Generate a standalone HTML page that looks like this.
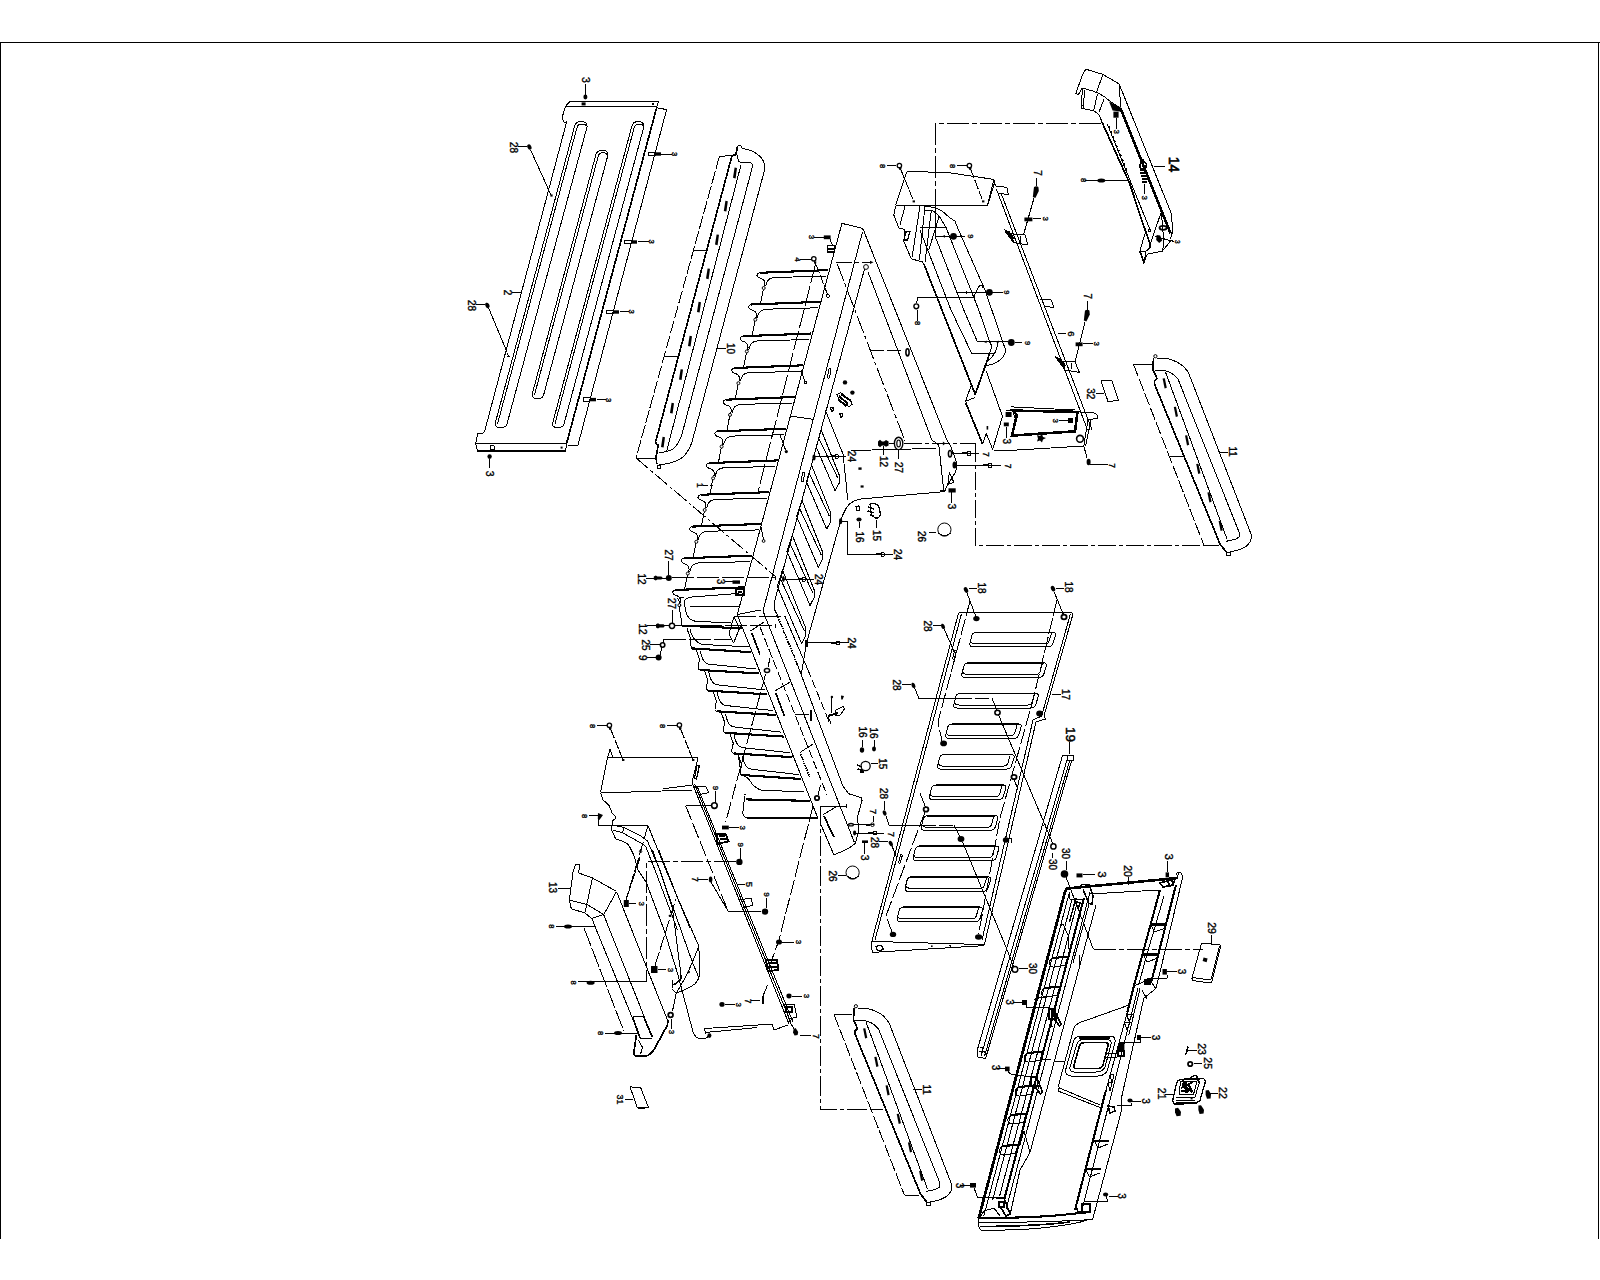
<!DOCTYPE html>
<html><head><meta charset="utf-8"><title>Exploded parts diagram</title>
<style>
html,body{margin:0;padding:0;background:#fff;}
body{width:1600px;height:1280px;overflow:hidden;font-family:"Liberation Sans",sans-serif;}
svg{display:block;position:absolute;left:0;top:0;}
.l{fill:none;stroke:#000;stroke-width:1;stroke-linecap:butt;stroke-linejoin:round;}
.t{fill:none;stroke:#000;stroke-width:0.8;}
.k{fill:none;stroke:#000;stroke-width:1.7;}
.k2{fill:none;stroke:#000;stroke-width:2.1;}
.d{fill:none;stroke:#000;stroke-width:1;stroke-dasharray:14 3 3 3;}
.f{fill:#000;stroke:none;shape-rendering:geometricPrecision;}
circle,ellipse{shape-rendering:geometricPrecision;}
text{font-family:"Liberation Sans",sans-serif;fill:#000;stroke:#000;stroke-width:.35;}
</style></head><body>
<svg width="1600" height="1280" viewBox="0 0 1600 1280" shape-rendering="crispEdges">
<rect x="0" y="0" width="1600" height="1280" fill="#fff"/>
<!-- 00_frame.svg -->
<g id="frame">
<path class="l" d="M0 42.5H1600"/>
<path class="l" style="stroke-width:1.2" d="M0.5 42.5V1239"/>
<path class="l" d="M1598.5 42.5V1239"/>
</g>

<!-- 02_panel2.svg -->
<g id="part2">
<!-- top flange -->
<path class="l" d="M570 101.4H658.6L657 106.4H565.4Z"/>
<path class="l" d="M565.4 106.4L562.4 116.5L563.4 121.5Q564 122.6 566.6 122L485 430L483.6 433L477.8 433.6L475.6 443.6"/>
<!-- right edge (thick) + outer side flange -->
<path class="k" d="M657 106.4L566.6 443.4"/>
<path class="l" d="M657 107.8L666.6 109.6L578 445H568"/>
<!-- bottom flange -->
<path class="l" d="M475.6 443.6H566.6"/>
<path class="l" d="M475.6 443.6L477.4 451"/>
<path class="k2" d="M477.2 451H565.8"/>
<path class="l" d="M566.6 443.6L565.6 451"/>
<!-- slots -->
<path class="l" d="M574.4 127Q575.4 121.4 581.4 121.6Q587.6 121.8 587 127L507 424Q505.6 428 500.6 427.6Q495 427.6 495 424Z"/>
<path class="l" d="M577 127.6Q578 124 582 124Q585.4 124 586 126"/>
<path class="l" d="M577 127.6L497.6 423.6"/>
<path class="l" d="M595.6 155.6Q596.6 150 602.4 150.2Q608.4 150.4 607.8 155.6L543.6 395Q542.4 398.8 537.8 398.6Q532 398.6 532 395Z"/>
<path class="l" d="M598.2 156.2Q599.2 152.6 603 152.6Q606.4 152.6 607 154.6"/>
<path class="l" d="M598.2 156.2L534.6 394.6"/>
<path class="l" d="M631.6 127Q632.6 121.4 638.4 121.6Q644.4 121.8 643.8 127L564 424Q562.6 428 557.8 427.6Q552.4 427.6 552.4 424Z"/>
<path class="l" d="M634.2 127.6Q635.2 124 639 124Q642.4 124 643 126"/>
<path class="l" d="M634.2 127.6L555 423.6"/>
<!-- flange details -->
<rect class="f" x="581.6" y="102.4" width="4" height="3"/>
<rect class="f" x="652" y="103" width="2" height="2"/>
<path class="l" d="M490 445.6h4v4h-4z"/>
<rect class="f" x="560.6" y="446.6" width="2" height="2"/>
<!-- screws 3 top / bottom -->
<path class="l" d="M585.4 84V95"/>
<ellipse class="f" cx="585.4" cy="97" rx="2" ry="2.4"/>
<text transform="translate(582 80) rotate(90)" text-anchor="middle" font-size="10.5">3</text>
<path class="l" d="M489.6 459V468"/>
<ellipse class="f" cx="489.6" cy="456.6" rx="2.2" ry="2.4"/>
<text transform="translate(485.6 473.6) rotate(90)" text-anchor="middle" font-size="10.5">3</text>
<!-- label 28 upper -->
<text transform="translate(509.6 147.6) rotate(90)" text-anchor="middle" font-size="10">28</text>
<path class="l" d="M518 146.4H527"/>
<ellipse class="f" cx="529.4" cy="147" rx="2" ry="2.8" transform="rotate(-25 529.4 147)"/>
<path class="l" d="M530.6 150L551 195"/>
<rect class="f" x="550.4" y="194.4" width="2.2" height="2.2"/>
<!-- label 2 -->
<text transform="translate(503.6 292.6) rotate(90)" text-anchor="middle" font-size="10">2</text>
<path class="l" d="M512 292.4H521.4"/>
<!-- label 28 lower -->
<text transform="translate(467.6 305.6) rotate(90)" text-anchor="middle" font-size="10">28</text>
<path class="l" d="M476 304.4H485"/>
<ellipse class="f" cx="487.4" cy="305.4" rx="2" ry="2.8" transform="rotate(-25 487.4 305.4)"/>
<path class="l" d="M488.6 308L507 352"/>
<path class="l" d="M506.6 352.6L508.6 356.4M507 356.4H509.6"/>
<!-- side screws 3 -->
<g id="sc3a"><path class="l" d="M648.0 152.3h7v3.400h-7z"/><rect class="f" x="655.0" y="152.3" width="6" height="3.400"/><path class="l" d="M661 154H672"/><text transform="translate(671.6 154) rotate(90)" text-anchor="middle" font-size="7.5">3</text></g>
<g><path class="l" d="M624.0 240.3h7v3.400h-7z"/><rect class="f" x="631.0" y="240.3" width="6" height="3.400"/><path class="l" d="M638 241.8H649"/><text transform="translate(649 241.6) rotate(90)" text-anchor="middle" font-size="7.5">3</text></g>
<g><path class="l" d="M606.0 310.3h7v3.400h-7z"/><rect class="f" x="613.0" y="310.3" width="6" height="3.400"/><path class="l" d="M620 311.8H629"/><text transform="translate(629 311.6) rotate(90)" text-anchor="middle" font-size="7.5">3</text></g>
<g><path class="l" d="M583.0 397.9h7v3.400h-7z"/><rect class="f" x="590.0" y="397.9" width="6" height="3.400"/><path class="l" d="M597 399.6H606"/><text transform="translate(606.4 400) rotate(90)" text-anchor="middle" font-size="7.5">3</text></g>
</g>

<!-- 10_rail10.svg -->
<g id="part10">
<!-- base plate dashed outline -->
<path class="l" style="stroke-dasharray:13 2.5" d="M719.4 156.4L636.1 457.8"/>
<path class="l" d="M719.4 156.4L735.5 155.2"/>
<path class="l" d="M636.1 458.1H655.6"/>
<path class="l" d="M693.4 250.4H706.8M664.2 356H678.4"/>
<!-- second (thick) line with hook -->
<path class="k" d="M737.6 146.4L736 154L731.8 156.4L656 440.5L655.3 442L656.8 444.3L658.3 445L656 457L656.8 464"/>
<path class="l" d="M737.6 146.2Q739 144.4 741 145.8L742.4 148.4"/>
<path class="l" d="M657.5 465.3h3.4v3h-3.4z"/>
<!-- third line -->
<path class="l" d="M741.1 164.5L666.5 451.6"/>
<!-- inner rail -->
<path class="l" d="M737.4 155.5L738.1 160Q738.6 162 740.4 162.2H748.3Q753.4 163 752.4 166.8L682.3 433Q679.4 443 673.8 448.4Q668 452.2 659 452.4"/>
<!-- outer rail -->
<path class="l" d="M742.3 148.4Q748 149.6 752 151Q761.6 155.6 764.2 163Q765.2 167 764.4 170.5L692 442Q688.4 453 681 458.6Q671 464.4 659 464.5"/>
<!-- slot marks -->
<g class="f">
<path d="M734.6 167.6l2.4 .4l-1.4 10.4l-2.6-.6z"/>
<path d="M725.4 200.8l2.4 .4l-1.4 10.4l-2.6-.6z"/>
<path d="M716.6 234.4l2.4 .4l-1.4 10.4l-2.6-.6z"/>
<path d="M707.6 268.4l2.4 .4l-1.4 10.4l-2.6-.6z"/>
<path d="M698.6 301.8l2.4 .4l-1.4 10.4l-2.6-.6z"/>
<path d="M689.6 335.8l2.4 .4l-1.4 10.4l-2.6-.6z"/>
<path d="M680.6 369.2l2.4 .4l-1.4 10.4l-2.6-.6z"/>
<path d="M671.6 402.8l2.4 .4l-1.4 10.4l-2.6-.6z"/>
<path d="M662.6 436.8l2.4 .4l-1.4 10.4l-2.6-.6z"/>
</g>
<!-- label 10 -->
<path class="l" d="M717 348H726"/>
<text transform="translate(726.6 348.6) rotate(90)" text-anchor="middle" font-size="10">10</text>
<!-- dashed diagonal to body -->
<path class="l" style="stroke-dasharray:16 3 3 3" d="M636.1 458.1L776 577"/>
</g>

<!-- 20_body_ribs.svg -->
<g id="ribsU">
<path class="k2"  d="M759.6 272.8L828.3 270.1"/>
<path class="l"  d="M759.6 272.8Q757.1 273.2 756.9 275.2Q757.5 277.6 761.5 278.6Q764.7 279.8 765 283.8L764.3 286.2"/>
<circle class="l" cx="763.7" cy="288" r="1.5"/>
<path class="l"  d="M763.3 289.6L760.5 304"/>
<path class="l"  d="M826.1 276.1L774.1 277.5Q769.1 278.2 767.5 281.2Q766.1 283.8 765.7 286.2"/>
<path class="k2"  d="M751.2 304.5L819.9 301.8"/>
<path class="l"  d="M751.2 304.5Q748.7 304.9 748.5 306.9Q749.1 309.3 753.1 310.3Q756.3 311.5 756.6 315.5L755.9 317.9"/>
<circle class="l" cx="755.3" cy="319.7" r="1.5"/>
<path class="l"  d="M754.9 321.3L752.1 335.7"/>
<path class="l"  d="M817.7 307.8L765.7 309.2Q760.7 309.9 759.1 312.9Q757.7 315.5 757.3 317.9"/>
<path class="k2"  d="M742.7 336.2L811.4 333.5"/>
<path class="l"  d="M742.7 336.2Q740.2 336.6 740 338.6Q740.6 341 744.6 342Q747.8 343.2 748.1 347.2L747.4 349.6"/>
<circle class="l" cx="746.8" cy="351.4" r="1.5"/>
<path class="l"  d="M746.4 353L743.6 367.4"/>
<path class="l"  d="M809.2 339.5L757.2 340.9Q752.2 341.6 750.6 344.6Q749.2 347.2 748.8 349.6"/>
<path class="k2"  d="M734.3 368L803 365.3"/>
<path class="l"  d="M734.3 368Q731.8 368.4 731.6 370.4Q732.2 372.8 736.2 373.8Q739.4 375 739.7 379L739 381.4"/>
<circle class="l" cx="738.4" cy="383.2" r="1.5"/>
<path class="l"  d="M738 384.8L735.2 399.2"/>
<path class="l"  d="M800.8 371.3L748.8 372.7Q743.8 373.4 742.2 376.4Q740.8 379 740.4 381.4"/>
<path class="k2"  d="M725.9 399.7L794.6 397"/>
<path class="l"  d="M725.9 399.7Q723.4 400.1 723.2 402.1Q723.8 404.5 727.8 405.5Q731 406.7 731.3 410.7L730.6 413.1"/>
<circle class="l" cx="730" cy="414.9" r="1.5"/>
<path class="l"  d="M729.6 416.5L726.8 430.9"/>
<path class="l"  d="M792.4 403L740.4 404.4Q735.4 405.1 733.8 408.1Q732.4 410.7 732 413.1"/>
<path class="k2"  d="M717.5 431.4L786.2 428.7"/>
<path class="l"  d="M717.5 431.4Q715 431.8 714.8 433.8Q715.4 436.2 719.4 437.2Q722.6 438.4 722.9 442.4L722.2 444.8"/>
<circle class="l" cx="721.6" cy="446.6" r="1.5"/>
<path class="l"  d="M721.2 448.2L718.4 462.6"/>
<path class="l"  d="M784 434.7L732 436.1Q727 436.8 725.4 439.8Q724 442.4 723.6 444.8"/>
<path class="k2"  d="M709 463.1L777.7 460.4"/>
<path class="l"  d="M709 463.1Q706.5 463.5 706.3 465.5Q706.9 467.9 710.9 468.9Q714.1 470.1 714.4 474.1L713.7 476.5"/>
<circle class="l" cx="713.1" cy="478.3" r="1.5"/>
<path class="l"  d="M712.7 479.9L709.9 494.3"/>
<path class="l"  d="M775.5 466.4L723.5 467.8Q718.5 468.5 716.9 471.5Q715.5 474.1 715.1 476.5"/>
<path class="k2"  d="M700.6 494.8L769.3 492.1"/>
<path class="l"  d="M700.6 494.8Q698.1 495.2 697.9 497.2Q698.5 499.6 702.5 500.6Q705.7 501.8 706 505.8L705.3 508.2"/>
<circle class="l" cx="704.7" cy="510" r="1.5"/>
<path class="l"  d="M704.3 511.6L701.5 526"/>
<path class="l"  d="M767.1 498.1L715.1 499.5Q710.1 500.2 708.5 503.2Q707.1 505.8 706.7 508.2"/>
<path class="k2"  d="M692.2 526.6L760.9 523.9"/>
<path class="l"  d="M692.2 526.6Q689.7 527 689.5 529Q690.1 531.4 694.1 532.4Q697.3 533.6 697.6 537.6L696.9 540"/>
<circle class="l" cx="696.3" cy="541.8" r="1.5"/>
<path class="l"  d="M695.9 543.4L693.1 557.8"/>
<path class="l"  d="M758.7 529.9L706.7 531.3Q701.7 532 700.1 535Q698.7 537.6 698.3 540"/>
<path class="k2"  d="M683.7 558.3L752.4 555.6"/>
<path class="l"  d="M683.7 558.3Q681.2 558.7 681 560.7Q681.6 563.1 685.6 564.1Q688.8 565.3 689.1 569.3L688.4 571.7"/>
<circle class="l" cx="687.8" cy="573.5" r="1.5"/>
<path class="l"  d="M687.4 575.1L684.6 589.5"/>
<path class="l"  d="M750.2 561.6L698.2 563Q693.2 563.7 691.6 566.7Q690.2 569.3 689.8 571.7"/>
<path class="k2"  d="M675.3 590L744 587.3"/>
<path class="l"  d="M675.3 590Q672.8 590.4 672.6 592.4Q673.2 594.8 677.2 595.8Q680.4 597 680.7 601L680 603.4"/>
<circle class="l" cx="679.4" cy="605.2" r="1.5"/>
</g>

<!-- 21_body_main.svg -->
<g id="bodyTop">
<!-- top cap and A-legs -->
<path class="l" d="M841.9 223.4L861.6 228.1Q864 229.6 865.3 234.7L946.9 440"/>
<path class="l" d="M841.9 223.4L738 612"/>
<path class="l" d="M862.5 231.9L763 611"/>
<path class="l" d="M864.4 269.4L774.4 602"/>
<circle class="l" cx="866" cy="267" r="2.4"/>
<path class="l" d="M868.1 272.2L931.9 440"/>
<!-- dash-dot lines -->
<path class="l" style="stroke-dasharray:16 3 4 3" d="M836.3 262.3H872"/>
<path class="f" d="M873.5 262.3l-3.5-1.6v3.2z"/>
<path class="l" style="stroke-dasharray:18 3 4 3" d="M837.2 263.8L905 441"/>
<path class="l" style="stroke-dasharray:14 3" d="M870 350.9H904"/>
<ellipse class="l" cx="907.5" cy="352.3" rx="1.6" ry="3.6" style="stroke-width:1.6"/>
<!-- hidden dashed line in wall -->
<path class="l" style="stroke-dasharray:20 3" d="M815.6 263.8L758 492"/>
</g>

<!-- 22_body_floor.svg -->
<g id="floorU">
<path class="l"  d="M821.3 430.3L839.1 474.8L839.1 483.3L835.1 490.8L816.1 446.8Z"/>
<path class="l"  d="M819.3 439.3L837.9 478.3"/>
<path class="l"  d="M811.6 465.2L830.7 513L830.7 521.5L826.7 529L806.4 481.7Z"/>
<path class="l"  d="M809.6 474.2L829.5 516.5"/>
<path class="l"  d="M801.9 500.1L822.3 551.2L822.3 559.7L818.3 567.2L796.7 516.6Z"/>
<path class="l"  d="M799.9 509.1L821.1 554.7"/>
<path class="l"  d="M792.2 535L814 589.4L814 597.9L810 605.4L787 551.5Z"/>
<path class="l"  d="M790.2 544L812.8 592.9"/>
<path class="l"  d="M782.5 569.9L805.6 627.6L805.6 636.1L801.6 643.6L777.3 586.4Z"/>
<path class="l"  d="M780.5 578.9L804.4 631.1"/>
</g>

<!-- 23_body_right.svg -->
<g id="bodyRight">
<!-- right leg lower end -->
<path class="l" d="M946.9 440L950 444.8Q954.6 456 957 464Q957.4 468 955.3 472.5L946.3 487.5L944.8 491.4"/>
<path class="l" d="M931.9 440L938.8 444.8L943.6 489.8M939.9 490.5H945"/>
<path class="l" d="M949.3 472.5L953.8 482.3L947.8 484.5Z"/>
<!-- lower edge of extension going left + arc + boundary down-left -->
<path class="l" d="M944.8 491.6L862.5 498.8Q853 500 848.6 505Q843.6 511 840.6 521L806.5 643L801.3 674"/>
<!-- upper floor line -->
<path class="l" d="M935.8 448.4L872 450L851 450.6"/>
<!-- inner floor edge -->
<path class="l" d="M825.5 410.5L843 454L846 482L847.6 500"/>
<!-- section line -->
<path class="l" d="M790 416L814 419.5"/>
<!-- washer 27, bolt 12 -->
<ellipse class="l" cx="898.6" cy="443.4" rx="4.2" ry="6.2" style="stroke-width:1.4"/>
<ellipse class="l" cx="898.6" cy="443.4" rx="1.8" ry="3.4" style="stroke-width:1.2"/>
<path class="l" d="M889 443.4H894"/>
<path class="f" d="M878 441.4l2-1.6l2 1.6h2l2-1.4l2.6 1.4v4l-2.6 1.4l-2-1.4h-2l-2 1.8l-2-1.8z"/>
<path class="l" d="M883.6 446V455M898.6 450V459"/>
<text transform="translate(879.6 461.6) rotate(90)" text-anchor="middle" font-size="10">12</text>
<text transform="translate(894.6 467.6) rotate(90)" text-anchor="middle" font-size="10">27</text>
<!-- dash-dot from washer to right, then down, then right -->
<path class="l" style="stroke-dasharray:18 3 4 3" d="M903.5 443.5H975.5"/>
<path class="f" d="M945.5 443.5l-2.6-2v4z"/>
<path class="l" style="stroke-dasharray:18 3 4 3" d="M975.5 443.5V545.5H1219"/>
<!-- screws 7 -->
<ellipse class="l" cx="950" cy="453.8" rx="1.6" ry="3.2" style="stroke-width:1.5"/>
<path class="l" d="M951.5 453.4H979"/>
<path class="k2" d="M962 453.4H967"/><path class="l" d="M967.6 451.8h2.8v3.4h-2.8z"/>
<text transform="translate(982.6 454.4) rotate(90)" text-anchor="middle" font-size="8.5">7</text>
<ellipse class="f" cx="954.5" cy="465" rx="2" ry="3.6"/>
<path class="l" d="M956 465.4H1001"/>
<path class="k2" d="M983 465.4H988"/><path class="l" d="M988.6 463.8h2.8v3.4h-2.8z"/>
<text transform="translate(1004.6 466) rotate(90)" text-anchor="middle" font-size="8.5">7</text>
<!-- screw 3 -->
<path class="f" d="M948.5 488.3h7.2v4.2h-7.2z"/>
<path class="l" d="M951.6 492V503"/>
<text transform="translate(947.6 506.4) rotate(90)" text-anchor="middle" font-size="10.5">3</text>
<!-- 24 upper leader -->
<ellipse class="f" cx="814" cy="457.6" rx="1.6" ry="3"/>
<path class="l" d="M814 456.4H846"/>
<path class="k2" d="M831 456.3H835"/><path class="l" d="M835.4 454.6h2.6v3.4h-2.6z"/>
<text transform="translate(848 456.4) rotate(90)" text-anchor="middle" font-size="10">24</text>
<!-- small squares -->
<rect class="f" x="858.4" y="467.4" width="3.2" height="2.4"/>
<rect class="f" x="860.6" y="485.4" width="3" height="2.2"/>
<!-- rim strip small slots -->
<path class="l" d="M829 368.6q1.6-.6 2 1l-1.6 8q-1.2 1-2-.4z"/>
<path class="l" d="M802.6 472.6q1.6-.6 2 1l-1.6 8q-1.2 1-2-.4z"/>
<!-- clip cluster near (845,398) -->
<circle class="f" cx="845" cy="382.4" r="2.2"/>
<circle class="f" cx="852.4" cy="392.6" r="2.2"/>
<path class="l" style="stroke-width:2" d="M839 396l9 8M841 394l10 7M838 399l8 7"/>
<path class="l" d="M836.6 394.6l4-2l10 8l1.6 3.6l-3 2.6l-9-6z"/>
<path class="l" style="stroke-width:1.3" d="M830.5 408l2.4-.6l.6 3.2l-2 .6zM839.8 414l2.4-.6l.6 3.2l-2 .6z"/>
</g>

<!-- 24_body_ribsL.svg -->
<g id="ribsL">
<path class="k2"  d="M692.3 648.4L751.3 652.2"/>
<path class="k2"  d="M699.8 670L758.8 673.4"/>
<path class="l"  d="M696.2 650L699.6 660Q697.8 665 698.2 668.4Q698.8 670 700.8 670"/>
<path class="l"  d="M700.4 651Q701.8 660 705.8 663Q707.8 664.2 710.8 664.4L756.3 669"/>
<path class="k2"  d="M708.2 690.6L767.2 694.4"/>
<path class="l"  d="M704.6 670.6L708 680.6Q706.2 685.6 706.6 689Q707.2 690.6 709.2 690.6"/>
<path class="l"  d="M708.8 671.6Q710.2 680.6 714.2 683.6Q716.2 684.8 719.2 685L764.7 690"/>
<path class="k2"  d="M716.6 711.3L775.6 715"/>
<path class="l"  d="M713 691.3L716.4 701.3Q714.6 706.3 715 709.7Q715.6 711.3 717.6 711.3"/>
<path class="l"  d="M717.2 692.3Q718.6 701.3 722.6 704.3Q724.6 705.5 727.6 705.7L773.1 710.6"/>
<path class="k2"  d="M725 732.8L784 736.6"/>
<path class="l"  d="M721.4 712.8L724.8 722.8Q723 727.8 723.4 731.2Q724 732.8 726 732.8"/>
<path class="l"  d="M725.6 713.8Q727 722.8 731 725.8Q733 727 736 727.2L781.5 732.2"/>
<path class="k2"  d="M733.5 753.4L792.5 757.2"/>
<path class="l"  d="M729.9 733.4L733.3 743.4Q731.5 748.4 731.9 751.8Q732.5 753.4 734.5 753.4"/>
<path class="l"  d="M734.1 734.4Q735.5 743.4 739.5 746.4Q741.5 747.6 744.5 747.8L790 752.8"/>
<path class="k2"  d="M742 775L801 779"/>
<path class="l"  d="M738.4 755L741.8 765Q740 770 740.4 773.4Q741 775 743 775"/>
<path class="l"  d="M742.6 756Q744 765 748 768Q750 769.2 753 769.4L798.5 774.6"/>
</g>

<!-- 25_body_mid.svg -->
<g id="bodyMid">
<!-- rib 11 pocket -->
<path class="l" d="M739 593.4L692 597Q684.4 597.6 684.2 603L686 612Q688 620.6 697 621.6L731 622.6"/>
<path class="l" d="M690 606.5H738.6"/>
<path class="l" d="M679 605.8L681 618L682 625.6"/>
<path class="l" d="M677.6 598l3.6 8.4M680 597.6h4"/>
<!-- mid thick line y~626 -->
<path class="k2" d="M682 625.6L742.4 628.4"/>
<path class="l" d="M686.9 628Q688.6 634 690.8 638.8Q689.6 645 692.6 650"/>
<path class="l" d="M690 629Q692 640 701.3 644.4L748.8 646.9"/>
<!-- wall edge lower, continuing from vertex -->
<path class="l" d="M738 612L737 614L817.8 818"/>
<!-- C lower -->
<path class="l" d="M763 611L854.4 842.5"/>
<!-- D vertical + thick hatched -->
<path class="l" d="M774.4 602V610"/>
<path class="k" style="stroke-dasharray:1.6 .8" d="M775 610L797.6 665"/>
<path class="l" style="stroke-dasharray:9 3" d="M760 627L827 795"/>
<path class="l" d="M785 616.5L807.5 668.8"/>
<path class="l" style="stroke-dasharray:9 3" d="M807.5 668.8L830 724"/>
<!-- leaders 12/27 upper -->
<text transform="translate(637.6 579) rotate(90)" text-anchor="middle" font-size="10">12</text>
<path class="l" d="M646 578H666"/>
<path class="f" d="M653.8 576.4l2-1l1.6 1h4l1.4 1.6l-1.4 1.6h-4l-1.6 1l-2-1z"/>
<circle class="f" cx="668.8" cy="578" r="3"/>
<path class="l" d="M668.8 561V575"/>
<text transform="translate(665 555) rotate(90)" text-anchor="middle" font-size="10">27</text>
<path class="l" style="stroke-dasharray:22 3" d="M672 577.3H775.6"/>
<path class="l" d="M775.6 575.6v4"/>
<!-- 24 mid -->
<ellipse class="f" cx="783.4" cy="579" rx="1.4" ry="3"/>
<path class="l" d="M784 579.4H814"/>
<path class="k2" d="M797.5 579.4H802"/><path class="l" d="M802.4 577.7h2.6v3.4h-2.6z"/>
<text transform="translate(814.6 579.6) rotate(90)" text-anchor="middle" font-size="10">24</text>
<!-- 3 screw near rib 11 -->
<text transform="translate(716.6 581.6) rotate(90)" text-anchor="middle" font-size="10">3</text>
<path class="l" d="M725 581.9H732.5"/>
<rect class="f" x="732.5" y="580.4" width="7.5" height="3.4"/>
<path class="l" style="stroke-width:1.4" d="M736 589h8v6h-8zM738 592h4"/>
<!-- leaders 12/27 lower -->
<text transform="translate(639 629) rotate(90)" text-anchor="middle" font-size="10">12</text>
<path class="l" d="M647 625.8H669"/>
<path class="f" d="M656 624.2l2-1l1.6 1h4l1.4 1.6l-1.4 1.6h-4l-1.6 1l-2-1z"/>
<circle class="l" cx="672" cy="625.8" r="2.6" style="stroke-width:1.5"/>
<path class="l" d="M672 610V622.8"/>
<text transform="translate(668 603.6) rotate(90)" text-anchor="middle" font-size="10">27</text>
<path class="l" style="stroke-dasharray:22 3" d="M675 625.6H775"/>
<path class="l" d="M775 623.6v4"/>
<path class="l" style="stroke-dasharray:22 3" d="M733.8 616.3H785"/>
<path class="l" d="M733.8 617L740 628.8M733.8 617L729 634L733.6 643L740.4 626"/>
<path class="l" d="M738 614.4L760.6 610"/>
<!-- 25 / 9 -->
<text transform="translate(641.6 645) rotate(90)" text-anchor="middle" font-size="10">25</text>
<path class="l" d="M650 644.4H660"/>
<circle class="l" cx="662.6" cy="645" r="2.2" style="stroke-width:1.6"/>
<path class="l" style="stroke-dasharray:22 3" d="M664 639H732"/>
<path class="l" d="M664 639L663 643M662 647.4L660 654.6"/>
<text transform="translate(639 657.8) rotate(90)" text-anchor="middle" font-size="10">9</text>
<path class="l" d="M647 657.6H656"/>
<circle class="f" cx="658.6" cy="657.6" r="3"/>
<!-- label 1 -->
<text transform="translate(696.6 485.2) rotate(90)" text-anchor="middle" font-size="9">1</text>
<path class="l" style="stroke-dasharray:5 2" d="M703 485.4H713"/>
<!-- leaders from ribs -->
<path class="l" d="M801 370L804.6 381"/><path class="l" d="M804 381.4h2.4v2.4h-2.4z"/>
<path class="l" d="M780 435L785.6 450"/><circle class="f" cx="786.3" cy="451.6" r="1.6"/>

<path class="l" d="M761 527L763.6 540"/><circle class="l" cx="763.6" cy="541" r="1.4"/>
<!-- top 3 and 4 items -->
<text transform="translate(808.600 237) rotate(90)" text-anchor="middle" font-size="8">3</text>
<path class="l" d="M814.400 237H823.800"/>
<rect class="f" x="823.800" y="235.400" width="6.800" height="3.800"/>
<path class="l" d="M830 239.400L832.500 245"/>
<path class="l" style="stroke-width:1.500" d="M827.500 245.600h7v6.400h-7zM827.500 248.800h7"/>
<text transform="translate(794.600 259.400) rotate(90)" text-anchor="middle" font-size="8">4</text>
<path class="l" d="M800 259.400H810.600"/>
<circle class="l" cx="813.800" cy="258.800" r="2.200" style="stroke-width:1.300"/>
<path class="f" d="M814 261l2.400 .6l-.4 2.600l-2-.6z"/>
<path class="l" style="stroke-dasharray:9 2" d="M816.300 265L827.500 294.400"/>
<path class="l" d="M826.600 294.600h2.400v2.400h-2.400z"/>
</g>

<!-- 26_body_low.svg -->
<g id="bodyLow">
<!-- L8 / L9 -->
<path class="l" d="M741 775Q747 777 749.4 779.7Q753 787 760.6 790L803.8 792"/>
<path class="k2" d="M745.6 799.4L810.3 800.9"/>
<path class="l" d="M738.4 755L741 775M744.7 795.6L742.8 812.5Q743 817.6 747.6 818"/>
<path class="l" d="M743.6 794.6q1.6-1.4 2.6 0"/>
<path class="k2" d="M746.6 818H817.8"/>
<!-- right boundary lower -->
<path class="l" d="M797.6 665L801.3 675L843 786.3L848.8 793.8L861 797.5Q862.4 799 861.9 801.3L857.2 818L859 829.4L855.3 843.4Q848 850 833.8 854.7L820.6 823.8"/>
<!-- pockets in rim -->
<g id="pk">
<path class="l" d="M750.5 631L764 622"/><path class="k" d="M751.6 632.6L760 654.6"/>
<path class="l" d="M774.7 691L789.6 682.4"/><path class="k" d="M775.6 692.6L784.4 716"/>
<path class="l" d="M800 752.5L813 744"/><path class="k" style="stroke-dasharray:1.6 .8" d="M800.6 754L809.6 777"/>
<path class="l" d="M823.4 814.4L837.5 806"/><path class="k" d="M824 816L833.8 837"/>
</g>

<circle class="l" cx="817" cy="798" r="2.200" style="stroke-width:1.800"/><path class="l" d="M818 795L820.500 785"/>
<!-- dashdot vertical from bottom -->
<path class="l" d="M820.6 806H846.9M846.9 803.6v4.6"/>
<path class="l" style="stroke-dasharray:20 3 4 3" d="M820.6 806V1109.6H882"/>
<!-- 24 bottom on rim -->
<path class="l" d="M805.4 640.4h2.4v5.6h-2.4z"/>
<path class="l" d="M808 642.8H849"/>
<path class="k2" d="M830.6 642.8H836"/><path class="l" d="M836.4 641h2.8v3.6h-2.8z"/>
<text transform="translate(847.6 643) rotate(90)" text-anchor="middle" font-size="10">24</text>
<!-- 24 right-of-arc -->
<ellipse class="f" cx="840.6" cy="521.2" rx="1.6" ry="3"/>
<path class="l" d="M842 521H847.6V554.4H893"/>
<path class="k2" d="M876 554.4H881"/><path class="l" d="M881.4 552.6h2.6v3.6h-2.6z"/>
<text transform="translate(893.6 554.6) rotate(90)" text-anchor="middle" font-size="10">24</text>
<!-- T bolt on rim -->
<path class="l" d="M795.3 714H809.4"/><path class="k2" d="M811.2 710.3V720.6"/>
<!-- clip near (837,715) -->
<path class="l" d="M831.9 697V713"/><circle class="f" cx="831.9" cy="697" r="1.2"/>
<path class="f" d="M841 695.6l3 .4l-1.4 3.4h-1.4z"/>
<path class="k2" d="M828 716l10-3"/>
<path class="l" d="M836 710l7-3.6l1.4 2.6l-4 6l-5 1z"/>
<path class="l" d="M828 716L831 724"/>
<!-- 16,16,15 -->
<text transform="translate(870.2 733) rotate(90)" text-anchor="middle" font-size="10">16</text>
<text transform="translate(859 732) rotate(90)" text-anchor="middle" font-size="10">16</text>
<path class="l" d="M874 740V747M862 740V747"/>
<ellipse class="f" cx="874" cy="749" rx="2" ry="2.4"/><ellipse class="f" cx="862" cy="750" rx="2.2" ry="2.8"/>
<text transform="translate(879 763.8) rotate(90)" text-anchor="middle" font-size="10">15</text>
<path class="l" d="M871 763.8H878"/>
<circle class="l" cx="865.6" cy="766" r="4.6" style="stroke-width:1.3"/>
<path class="l" style="stroke-width:1.6" d="M857 765l5 2M857.6 769l5 1.6M860 772h4"/>
<!-- 15/16 upper (near arc) -->
<text transform="translate(872.6 535.6) rotate(90)" text-anchor="middle" font-size="10">15</text>
<path class="l" d="M876.6 520V528"/>
<path class="l" style="stroke-width:1.3" d="M870 504q6-2 9 3l1.400 7q-1 5-5 4l-4-3z"/>
<path class="l" style="stroke-width:1.6" d="M868 507l6 2M867.600 511l6 2M870 515l4 1"/>
<text transform="translate(855.6 537) rotate(90)" text-anchor="middle" font-size="10">16</text>
<path class="l" d="M859.6 522V528"/>
<ellipse class="f" cx="859" cy="519.4" rx="2.6" ry="2"/>
<path class="l" style="stroke-width:1.3" d="M856 506.600l3-.6l.6 4l-2.600 .6z"/>
<!-- 26 upper -->
<text transform="translate(918.4 536.6) rotate(90)" text-anchor="middle" font-size="10">26</text>
<path class="l" d="M929 532.4H936"/>
<circle class="l" cx="944.4" cy="529.6" r="6.6"/>
<path class="l" d="M938.6 533Q944 538 950.6 533"/>
<!-- 28 labels & leaders -->
<text transform="translate(893 685) rotate(90)" text-anchor="middle" font-size="10">28</text>
<path class="l" d="M902 684H911"/>
<ellipse class="f" cx="913.4" cy="685.4" rx="1.8" ry="2.8" transform="rotate(-25 913.4 685.4)"/>
<path class="l" d="M914.6 688L919 698.5H957.5"/>
<path class="l" style="stroke-dasharray:14 3" d="M957.5 698.5H992"/>
<text transform="translate(880 793.6) rotate(90)" text-anchor="middle" font-size="10">28</text>
<path class="l" d="M884.4 801V809.6"/>
<ellipse class="f" cx="884.6" cy="813" rx="1.8" ry="2.8" transform="rotate(-25 884.6 813)"/>
<path class="l" d="M886 816L889 825.3H922"/>
<path class="l" style="stroke-dasharray:14 3" d="M922 825.3H954"/>
<text transform="translate(870.6 842.6) rotate(90)" text-anchor="middle" font-size="10">28</text>
<path class="l" d="M879 841.6H888"/>
<ellipse class="f" cx="890.8" cy="843.6" rx="1.8" ry="3" transform="rotate(-25 890.8 843.6)"/>
<path class="l" d="M892 846L897 858"/>
<!-- 7s -->
<text transform="translate(870 811.6) rotate(90)" text-anchor="middle" font-size="9.5">7</text>
<path class="l" d="M873.6 816V822"/>
<ellipse class="l" cx="851" cy="824.7" rx="2.4" ry="1.200" style="stroke-width:1.3"/>
<path class="l" d="M853 824.7H874"/><path class="k2" d="M866 824.7H870"/><circle class="l" cx="872.4" cy="824.7" r="1.8"/>
<text transform="translate(888 834.4) rotate(90)" text-anchor="middle" font-size="9.5">7</text>
<ellipse class="f" cx="854.6" cy="833" rx="1.600" ry="2.400"/>
<path class="l" d="M856 833H884"/><path class="k2" d="M868.4 833H873"/><path class="l" d="M873.4 831.2h2.800v3.600h-2.800z"/>
<!-- 3 -->
<rect class="f" x="862" y="840.4" width="6" height="2.600"/>
<path class="l" d="M864.7 843.4V853.800"/>
<text transform="translate(861 857.6) rotate(90)" text-anchor="middle" font-size="10.5">3</text>
<!-- 26 lower -->
<text transform="translate(829 876) rotate(90)" text-anchor="middle" font-size="10">26</text>
<path class="l" d="M838 875.400H845.600"/>
<circle class="l" cx="852.6" cy="872.6" r="6.600"/>
<path class="l" d="M847 876Q852.600 881 858.600 876"/>
</g>

<!-- 30_p17_slots.svg -->
<g id="p17slots">
<path class="l"  d="M976 632.4H1053Q1056 632.4 1055.4 635.4L1053 643.4Q1052 646.9 1048 646.9H973Q969.4 646.9 970 643.4L972 635.4Q973 632.4 976 632.4Z"/>
<path class="k"  d="M976 632.4H1053"/>
<path class="l"  d="M970.6 641.4Q971.4 643.9 975 643.9H1045Q1048.5 643.9 1049.4 640.4L1051.4 633.4"/>
<path class="l"  d="M967.9 662.9H1043.9Q1046.9 662.9 1046.3 665.9L1043.9 673.9Q1042.9 677.4 1038.9 677.4H964.9Q961.3 677.4 961.9 673.9L963.9 665.9Q964.9 662.9 967.9 662.9Z"/>
<path class="k"  d="M967.9 662.9H1043.9"/>
<path class="l"  d="M962.5 671.9Q963.3 674.4 966.9 674.4H1035.9Q1039.4 674.4 1040.3 670.9L1042.3 663.9"/>
<path class="l"  d="M959.8 693.5H1035.8Q1038.8 693.5 1038.2 696.5L1035.8 704.5Q1034.8 708 1030.8 708H956.8Q953.2 708 953.8 704.5L955.8 696.5Q956.8 693.5 959.8 693.5Z"/>
<path class="k"  d="M959.8 693.5H1035.8"/>
<path class="l"  d="M954.4 702.5Q955.2 705 958.8 705H1027.8Q1031.3 705 1032.2 701.5L1034.2 694.5"/>
<path class="l"  d="M951.7 724H1018.7Q1021.7 724 1021.1 727L1018.7 735Q1017.7 738.5 1013.7 738.5H948.7Q945.1 738.5 945.7 735L947.7 727Q948.7 724 951.7 724Z"/>
<path class="k"  d="M951.7 724H1018.7"/>
<path class="l"  d="M946.3 733Q947.1 735.5 950.7 735.5H1010.7Q1014.2 735.5 1015.1 732L1017.1 725"/>
<path class="l"  d="M943.6 754.6H1011.6Q1014.6 754.6 1014 757.6L1011.6 765.6Q1010.6 769.1 1006.6 769.1H940.6Q937 769.1 937.6 765.6L939.6 757.6Q940.6 754.6 943.6 754.6Z"/>
<path class="k"  d="M943.6 754.6H1011.6"/>
<path class="l"  d="M938.2 763.6Q939 766.1 942.6 766.1H1003.6Q1007.1 766.1 1008 762.6L1010 755.6"/>
<path class="l"  d="M935.5 785.1H1003.5Q1006.5 785.1 1005.9 788.1L1003.5 796.1Q1002.5 799.6 998.5 799.6H932.5Q928.9 799.6 929.5 796.1L931.5 788.1Q932.5 785.1 935.5 785.1Z"/>
<path class="k"  d="M935.5 785.1H1003.5"/>
<path class="l"  d="M930.1 794.1Q930.9 796.6 934.5 796.6H995.5Q999 796.6 999.9 793.1L1001.9 786.1"/>
<path class="l"  d="M927.4 815.7H995.4Q998.4 815.7 997.8 818.7L995.4 826.7Q994.4 830.2 990.4 830.2H924.4Q920.8 830.2 921.4 826.7L923.4 818.7Q924.4 815.7 927.4 815.7Z"/>
<path class="k"  d="M927.4 815.7H995.4"/>
<path class="l"  d="M922 824.7Q922.8 827.2 926.4 827.2H987.4Q990.9 827.2 991.8 823.7L993.8 816.7"/>
<path class="l"  d="M919.3 846.2H996.3Q999.3 846.2 998.7 849.2L996.3 857.2Q995.3 860.8 991.3 860.8H916.3Q912.7 860.8 913.3 857.2L915.3 849.2Q916.3 846.2 919.3 846.2Z"/>
<path class="k"  d="M919.3 846.2H996.3"/>
<path class="l"  d="M913.9 855.2Q914.7 857.8 918.3 857.8H988.3Q991.8 857.8 992.7 854.2L994.7 847.2"/>
<path class="l"  d="M911.2 876.8H988.2Q991.2 876.8 990.6 879.8L988.2 887.8Q987.2 891.3 983.2 891.3H908.2Q904.6 891.3 905.2 887.8L907.2 879.8Q908.2 876.8 911.2 876.8Z"/>
<path class="k"  d="M911.2 876.8H988.2"/>
<path class="l"  d="M905.8 885.8Q906.6 888.3 910.2 888.3H980.2Q983.7 888.3 984.6 884.8L986.6 877.8"/>
<path class="l"  d="M903.1 907.3H980.1Q983.1 907.3 982.5 910.3L980.1 918.3Q979.1 921.8 975.1 921.8H900.1Q896.5 921.8 897.1 918.3L899.1 910.3Q900.1 907.3 903.1 907.3Z"/>
<path class="k"  d="M903.1 907.3H980.1"/>
<path class="l"  d="M897.7 916.3Q898.5 918.8 902.1 918.8H972.1Q975.6 918.8 976.5 915.3L978.5 908.3"/>
</g>

<!-- 31_p17.svg -->
<g id="p17">
<!-- outline -->
<path class="l" d="M960 612.4H1071L1073 614L1044 716L1045.5 719L1036 722L984.4 944.6"/>
<path class="l" d="M1070.4 614L1041.6 716L1033 720L982 940"/>
<path class="l" d="M960 612.4Q958.4 613 958 615L872 940.6"/>
<path class="l" d="M961.4 614L875 940"/>
<path class="l" d="M872 941.4L984.4 944.6"/>
<path class="l" d="M872 940.6L871 944L872.4 952.4L984.4 945.6"/>
<!-- holes on left edge -->
<path class="l" d="M954.6 651q1.400-.6 1.600 .8l-1.800 7q-1.200 .8-1.600-.6z"/>
<path class="l" d="M900.6 855q1.400-.6 1.600 .8l-1.800 7q-1.200 .8-1.600-.6z"/>
<!-- bottom flange marks -->
<path class="l" style="stroke-width:1.300" d="M876 946.600l3-1.600l3.600 1.600l.6 2.800l-4 1.600l-2.600-1.600z"/>
<rect class="f" x="931" y="945.4" width="1.600" height="1.600"/>
<path class="l" d="M949 945l2 1l-1.600 1.600"/>
<!-- blobs on panel -->
<ellipse class="f" cx="976.4" cy="618.6" rx="3.200" ry="2.600"/>
<ellipse class="l" cx="1064" cy="617" rx="2.600" ry="2.400" style="stroke-width:1.800"/>
<ellipse class="l" cx="997.5" cy="712.6" rx="2.600" ry="2.400" style="stroke-width:1.600"/>
<ellipse class="f" cx="1039.6" cy="713.6" rx="3.400" ry="3"/>
<ellipse class="f" cx="943.6" cy="743.4" rx="3.400" ry="2.800"/>
<ellipse class="l" cx="1014" cy="777" rx="2.600" ry="2.200" style="stroke-width:1.800"/>
<ellipse class="l" cx="926" cy="809.4" rx="2.400" ry="2.200" style="stroke-width:1.800"/>
<ellipse class="f" cx="961" cy="839" rx="3.400" ry="3"/>
<ellipse class="f" cx="1006" cy="840" rx="3.200" ry="2.800"/>
<path class="l" d="M1009 838l3 1l-.6 3.600"/>
<ellipse class="f" cx="893" cy="934.4" rx="3.200" ry="2.600"/>
<ellipse class="f" cx="978.6" cy="937" rx="3.600" ry="2.800"/>
<!-- 18 labels -->
<text transform="translate(977.6 588) rotate(90)" text-anchor="middle" font-size="10">18</text>
<path class="l" d="M969 588.400H977"/>
<ellipse class="f" cx="966" cy="590" rx="2" ry="3" transform="rotate(-25 966 590)"/>
<path class="l" d="M967 593L976 617"/>
<path class="l" style="stroke-dasharray:16 3" d="M970 601L938 722L942 741"/>
<text transform="translate(1064.600 587) rotate(90)" text-anchor="middle" font-size="10">18</text>
<path class="l" d="M1056 588H1064"/>
<ellipse class="f" cx="1053" cy="588.600" rx="2" ry="3" transform="rotate(-25 1053 588.600)"/>
<path class="l" d="M1054 591.600L1063.600 615"/>
<path class="l" style="stroke-dasharray:16 3" d="M1057 600L1033 700L1000 818L978.600 934"/>
<!-- 28 upper-left -->
<text transform="translate(924.400 626) rotate(90)" text-anchor="middle" font-size="10">28</text>
<path class="l" d="M933 625H941"/>
<ellipse class="f" cx="943" cy="626.400" rx="1.800" ry="2.800" transform="rotate(-25 943 626.400)"/>
<path class="l" d="M944 629L950 642L954 652"/>
<!-- 28 mid leader continues: to blob then long line to part 19/20 -->
<path class="l" d="M992 698.5L997 710.400"/>

<!-- from lower 28 leader into panel -->
<path class="l" d="M954 825.300L960 837"/>
<path class="l" d="M962.600 842L1008 952L1013.600 967"/>
<!-- dashed from upper-left blob chain -->
<path class="l" style="stroke-dasharray:16 3" d="M920 793L925.400 807"/>
<path class="l" style="stroke-dasharray:16 3" d="M925 812L912 846L886 916L892 932"/>
<path class="l" d="M1014 779L1018 790"/>
<!-- label 17 -->
<text transform="translate(1062 694.600) rotate(90)" text-anchor="middle" font-size="10">17</text>
<path class="l" d="M1052 694.500H1061"/>
</g>
<g id="p19">
<text transform="translate(1065.600 734.600) rotate(90)" text-anchor="middle" font-size="13.500" style="stroke-width:.5">19</text>
<path class="l" d="M1069.500 742V754"/>
<path class="l" d="M1062.500 755.400H1073V760.500H1067.600V755.400"/>
<path class="l" d="M1062.500 755.500L977 1051"/>
<path class="l" d="M1067 760L981 1056"/>
<path class="l" d="M1069.600 760.600L984.600 1056"/>
<path class="l" d="M1071.600 760.600L987 1054"/>
<path class="l" d="M977 1051L978 1057L985.600 1058.400L987 1054L984 1051.600H978.600"/>
<path class="l" style="stroke-width:1.400" d="M980.600 1047l2.600 1l-1 3.600"/>
</g>

<!-- 40_p20_gen.svg -->
<g id="p20gen">
<path class="k2" style="stroke-width:2.8" d="M1065.5 890L978.8 1218"/>
<path class="l"  d="M1069.5 892L983.8 1216"/>
<path class="l"  d="M1071.9 900L992.6 1200"/>
<path class="l"  d="M1077.1 903L999.6 1196"/>
<path class="k2"  d="M1083.9 898L1004.3 1199"/>
<path class="l"  d="M1090 892L1006.2 1209"/>
<path class="l"  d="M1096 905L1030 1152.5L1020 1170L1010 1215"/>
<path class="l"  d="M1030 1152.5L1024 1131L1019.6 1146"/>
<path class="k2"  d="M1052.5 958L1067.5 956.8"/>
<path class="l"  d="M1052.5 958Q1048.5 961 1049.5 964Q1050.5 967.5 1054.5 967L1065 965.4"/>
<path class="l"  d="M1065 965.4L1067.5 957"/>
<path class="k2"  d="M1044.6 988L1059.6 986.8"/>
<path class="l"  d="M1044.6 988Q1040.6 991 1041.6 994Q1042.6 997.5 1046.6 997L1057.1 995.4"/>
<path class="l"  d="M1057.1 995.4L1059.6 987"/>
<path class="k2"  d="M1027.4 1053L1042.4 1051.8"/>
<path class="l"  d="M1027.4 1053Q1023.4 1056 1024.4 1059Q1025.4 1062.5 1029.4 1062L1039.9 1060.4"/>
<path class="l"  d="M1039.9 1060.4L1042.4 1052"/>
<path class="k2"  d="M1018.4 1087L1033.4 1085.8"/>
<path class="l"  d="M1018.4 1087Q1014.4 1090 1015.4 1093Q1016.4 1096.5 1020.4 1096L1030.9 1094.4"/>
<path class="l"  d="M1030.9 1094.4L1033.4 1086"/>
<path class="k2"  d="M1011 1115L1026 1113.8"/>
<path class="l"  d="M1011 1115Q1007 1118 1008 1121Q1009 1124.5 1013 1124L1023.5 1122.4"/>
<path class="l"  d="M1023.5 1122.4L1026 1114"/>
<path class="k2"  d="M1002.8 1146L1017.8 1144.8"/>
<path class="l"  d="M1002.8 1146Q998.8 1149 999.8 1152Q1000.8 1155.5 1004.8 1155L1015.3 1153.4"/>
<path class="l"  d="M1015.3 1153.4L1017.8 1145"/>
</g>

<!-- 41_p20.svg -->
<g id="p20">
<!-- top bar -->
<path class="k2" style="stroke-width:2.6" d="M1066 888.6L1178 878"/>
<path class="l" d="M1090 894L1159 890"/>
<path class="l" d="M1065.5 890Q1065.600 887.600 1068 887.600"/>
<path class="l" d="M1070 892Q1068 897 1070 899L1082 899.6"/>
<!-- top-left bracket -->
<path class="l" style="stroke-width:1.600" d="M1080 887l2-2.400h7l1 2.400l3 9l-1 8l-3-.6l-6-14"/>
<path class="l" d="M1089 904L1073 963M1079 955l1 14"/>
<path class="l" style="stroke-width:1.400" d="M1075.600 902l2.600 7l2-6.600zM1076 898l-6.600 24"/>
<path class="l" d="M1060 926l3-2l5 11l1 14"/>
<!-- top-right corner -->
<path class="l" d="M1176 874.600Q1178.600 870.600 1181 873Q1183.400 877 1182 880"/>
<path class="l" d="M1178.600 872.600L1177 878"/>
<path class="l" style="stroke-width:1.600" d="M1160 883l3 4l10-2l2-6zM1168 882l2.400 5M1172 880.600l2 5"/>
<!-- right rail upper -->
<path class="l" d="M1182 880L1162.900 960L1155.800 988.500L1143.800 998.300L1121 1100L1122 1106L1121 1112.500L1092.500 1220"/>
<path class="k2" d="M1176 885L1151.300 981.800"/>
<path class="k2" d="M1160 890L1134 985.500L1127.300 1012.500"/>
<path class="l" d="M1164 896L1145.300 960L1139 984"/>
<path class="l" d="M1127.300 1012.500L1106 1090"/>
<path class="k2" d="M1106 1090L1075 1210"/>
<path class="l" d="M1137.800 988.500L1112.500 1090L1083 1206"/>
<path class="l" d="M1140 988.500L1128.800 1035"/>
<path class="l" d="M1134 986L1143 982L1151 981.600L1155.800 988.500"/>
<path class="l" d="M1142 990L1147 999"/>
<!-- right rail rungs -->
<g>
<path class="k2" d="M1150.500 924.500H1166.500"/><path class="l" d="M1151 925l3.600 7l11-4"/>
<path class="k2" d="M1143 954.500H1158.500"/><path class="l" d="M1143.500 955l3.600 7l11-4"/>
<path class="l" d="M1126.500 1014h6l-3.600 7zM1124.400 1022h6l-3.600 8z"/>
<path class="k2" d="M1093.800 1140.600H1108.800"/><path class="l" d="M1094.400 1141l3.600 7l10-4"/>
<path class="k2" d="M1085.600 1169.400H1100.600"/><path class="l" d="M1086 1170l3.600 7l10-4"/>
<path class="l" d="M1110 1074l4 1l-2 8zM1108 1082l4 1l-2 8z"/>
</g>
<!-- big curve inside -->
<path class="l" d="M1128 1005.400L1080 1022.500Q1074.600 1025 1073.600 1029L1058 1087.500V1091L1100 1107.500"/>
<path class="l" d="M1058.600 1087.600L1100 1105"/>
<path class="l" d="M1040 1060q6-2 11 0M1055 1061H1065"/>
<!-- handle -->
<path class="l" d="M1080 1036H1111Q1116 1037 1115 1042.500L1107.500 1070Q1105 1076 1097.500 1076H1071Q1064.600 1075 1065.600 1070L1073.600 1041Q1075.600 1036.400 1080 1036Z"/>
<path class="k2" d="M1078.600 1037.600H1110"/>
<path class="l" d="M1082 1039.600H1108Q1112 1040.600 1111 1044.600L1105 1067Q1103 1072 1096 1072H1074Q1069 1071.600 1070 1067L1077 1043.600Q1078.600 1040 1082 1039.600Z"/>
<path class="l" style="stroke-width:1.600" d="M1084 1042.600H1106Q1108.600 1043 1108 1046L1103 1065Q1101.600 1068.600 1097 1068.600H1075.600Q1073 1068 1074 1065L1079.600 1045.600Q1081 1042.600 1084 1042.600Z"/>
<path class="l" d="M1106 1053H1118M1104.600 1057H1117"/>
<!-- bottom bar -->
<path class="k2" d="M978.800 1218Q1040 1218 1072.500 1213.800L1090 1212"/>
<path class="l" d="M978.800 1218L978.600 1224Q979 1230 982 1230.400Q1030 1230 1050 1227Q1078 1224 1090 1219L1092.500 1220"/>
<path class="l" d="M979 1222.500Q1040 1222.500 1092.500 1219.600"/>
<path class="k" d="M980 1226.600Q1040 1226 1070 1222"/>
<path class="l" d="M980 1217L984 1211L994 1208L1000 1216"/>
<path class="l" style="stroke-width:1.600" d="M996 1198h8l6 16l-4 2l-5-8M999 1202h5v5h-5z"/>
<path class="l" style="stroke-width:1.600" d="M1082 1204h8v8h-8zM1076 1206l2 6h5"/>
<!-- brackets on left rail -->
<path class="l" style="stroke-width:1.600" d="M1048.800 1009h6.400v10h-6.400zM1052 1009v10M1055 1012l6 12l-1.600 2l-5-7M1050 1019l2 8"/>
<path class="l" style="stroke-width:1.600" d="M1031 1077h6.400v9h-6.400zM1037.400 1079l5 13l-2 2l-6-8"/>
<path class="l" d="M1034 1000l8-3l4 1"/>
<!-- labels/screws -->
<text transform="translate(1048.600 864.600) rotate(90)" text-anchor="middle" font-size="10">30</text>
<text transform="translate(1062.400 853.600) rotate(90)" text-anchor="middle" font-size="10">30</text>
<path class="l" d="M1052.600 853V858M1066 861V870"/>
<circle class="l" cx="1053.400" cy="846.400" r="2.600" style="stroke-width:1.500"/>
<circle class="f" cx="1064.500" cy="874" r="3.800"/>

<rect class="f" x="1076.500" y="873.400" width="6" height="4"/>
<path class="l" d="M1083 874.500H1095"/>
<text transform="translate(1097.600 874.400) rotate(90)" text-anchor="middle" font-size="11.500">3</text>
<text transform="translate(1124.400 871) rotate(90)" text-anchor="middle" font-size="10.500">20</text>
<path class="l" d="M1128 877V885"/>
<text transform="translate(1164.600 856.600) rotate(90)" text-anchor="middle" font-size="11.500">3</text>
<path class="l" d="M1167.500 861V872"/>
<rect class="f" x="1165.600" y="872.400" width="3.400" height="5"/>
<rect class="f" x="1162.500" y="969" width="4.400" height="5.600"/>
<path class="l" d="M1167 971.500H1177M1167.500 974.600V978L1147.500 978.800"/>
<text transform="translate(1177.600 971.600) rotate(90)" text-anchor="middle" font-size="10">3</text>
<path class="f" d="M1144 979h7v6h-7z"/>
<rect class="f" x="1137" y="1035" width="4" height="5"/>
<path class="l" d="M1141 1037.500H1151M1140.600 1040V1042.600L1119 1043"/>
<text transform="translate(1151.600 1037.600) rotate(90)" text-anchor="middle" font-size="10">3</text>
<path class="f" d="M1118 1043h6.400v7h-6.400z"/>
<path class="l" style="stroke-width:1.400" d="M1118 1051h6v5h-6z"/>
<ellipse class="f" cx="1130" cy="1100.600" rx="2.600" ry="2"/>
<path class="l" d="M1132 1101H1141M1131 1102.600L1132 1105.600H1117"/>
<text transform="translate(1142 1101) rotate(90)" text-anchor="middle" font-size="10">3</text>
<path class="l" style="stroke-width:1.600" d="M1108 1106l6 1l1 4l-5 2z"/>
<ellipse class="f" cx="1105.600" cy="1194.400" rx="2.600" ry="2"/>
<path class="l" d="M1108.800 1196H1117.500M1106 1196.600L1108 1201H1084"/>
<text transform="translate(1117.600 1196) rotate(90)" text-anchor="middle" font-size="10">3</text>
<!-- left screws -->
<text transform="translate(1006 1002) rotate(90)" text-anchor="middle" font-size="10">3</text>
<path class="l" d="M1012.500 1002H1022"/>
<rect class="f" x="1022" y="1000" width="5" height="5"/>
<path class="l" d="M1026 1005L1027 1007.400H1048.800"/>
<text transform="translate(991.600 1067.600) rotate(90)" text-anchor="middle" font-size="10">3</text>
<path class="l" d="M997 1068.400H1005"/>
<rect class="f" x="1005" y="1066.600" width="4.600" height="4.600"/>
<path class="l" d="M1008 1071L1010 1073.800L1031 1077"/>
<text transform="translate(955.600 1185.600) rotate(90)" text-anchor="middle" font-size="10">3</text>
<path class="l" d="M960 1185.600H970"/>
<rect class="f" x="970" y="1183" width="6" height="4.600"/>
<path class="l" d="M974 1187.600L977.500 1197.500H996"/>
<!-- 30 lower-left ring -->
<circle class="l" cx="1015" cy="969.400" r="2.800" style="stroke-width:1.500"/>
<path class="l" d="M1018.800 968.800H1028"/>
<text transform="translate(1029 968.600) rotate(90)" text-anchor="middle" font-size="10">30</text>
<path class="l" d="M1008 952L1013.600 967"/>
</g>

<!-- 45_small_right.svg -->
<g id="p29">
<path class="l" d="M1203 943.400Q1201.600 943 1201 945L1192 978Q1191.600 980 1193.600 980.600L1209 983Q1211.400 983 1212 981L1220.600 947Q1221 945 1219 944.600Z"/>
<path class="l" d="M1193 977.600L1209.600 980Q1211 980 1211.600 978L1219.600 946"/>
<path class="f" d="M1203.600 957.600l4 1l-1 3.600l-4-1.200z"/>
<text transform="translate(1208 928) rotate(90)" text-anchor="middle" font-size="10.500">29</text>
<path class="l" d="M1211.600 934.600V943.600"/>
<!-- dash-dot from long leader -->
<path class="l" d="M998.600 715L1053 844"/>
<path class="l" d="M1066 877L1093.500 949.500"/>
<path class="l" d="M1042.600 825.600l3-1.600"/>
<path class="l" style="stroke-dasharray:22 3 5 3" d="M1093.500 949.500H1203"/>
</g>
<g id="latch">
<text transform="translate(1198 1049) rotate(90)" text-anchor="middle" font-size="10.500">23</text>
<path class="l" d="M1188.300 1050.300H1197"/>
<path class="l" style="stroke-width:1.600" d="M1188 1046.600L1186.400 1053L1185 1054.400"/>
<text transform="translate(1204.200 1063.200) rotate(90)" text-anchor="middle" font-size="10.500">25</text>
<path class="l" d="M1193.800 1063.400H1202.300"/>
<circle class="l" cx="1190.200" cy="1064" r="2.200" style="stroke-width:1.800"/>
<path class="l" style="stroke-width:1.300" d="M1181.500 1079.200L1203.900 1078.800L1205.600 1081L1200 1100.300L1196 1103.400L1174.200 1104.200L1172.700 1100.300L1176.600 1083Q1178 1079.600 1181.500 1079.200Z"/>
<path class="k2" d="M1174.600 1103.600L1196 1102.600"/>
<path class="l" d="M1176 1097.600L1195 1097L1200 1080.600M1175.600 1100.600L1196 1100"/>
<path class="l" d="M1180.600 1081.600H1197L1193.600 1094H1179Z"/>
<path class="l" style="stroke-width:2.200" d="M1183 1080l4 13M1181 1088l12-6M1182 1084l10 8M1186 1081v12M1189 1085l3 7M1180.600 1091h8"/>
<path class="l" style="stroke-width:1.400" d="M1188 1080l6-4.600q2.600-.6 3 1.600l2 6"/>
<rect class="f" x="1190.600" y="1098" width="2" height="1.400"/>
<text transform="translate(1157.600 1093.700) rotate(90)" text-anchor="middle" font-size="10.500">21</text>
<path class="l" d="M1165.200 1094.500H1173.400"/>
<text transform="translate(1218.600 1092.900) rotate(90)" text-anchor="middle" font-size="10.500">22</text>
<path class="l" d="M1210.200 1093.300H1218"/>
<path class="f" d="M1205.600 1090.600l3-.6l2.400 4l-.4 4.400l-3.600 .4l-1.400-4z"/>
<path class="f" d="M1175 1108.400l3-.6l3 4l-.4 4l-4 .4l-1.600-4z"/>
<path class="f" d="M1198.400 1105.600l2.600-.4l3 4.600l-.4 3.800l-4 .4l-1.200-4z"/>
</g>

<!-- 50_p11.svg -->
<defs>
<g id="rail11">
<path class="l" style="stroke-dasharray:13 2.500" d="M1133.500 364.500L1204 545.400"/>
<path class="l" d="M1133.500 364.500L1152 364.300M1204 545.400H1218"/>
<circle class="l" cx="1155.400" cy="356.200" r="1.600"/>
<path class="k" d="M1153.500 357.600L1153 370L1157 378.500L1154.500 381V384L1220 544L1227 553"/>
<path class="l" d="M1226 552h4v3.600h-4z"/>
<path class="l" d="M1165.500 372L1227 539"/>
<path class="l" d="M1154.500 370L1164 370.500Q1172 372.600 1175 376Q1177.400 378 1178 379L1239 532V537Q1236 540 1228 540.600L1226 542"/>
<path class="l" d="M1157 358L1167 358.500Q1177 361 1183 366Q1187.600 370.600 1189 374L1251 534Q1252 538 1250 542Q1247 546.600 1243 548Q1238 551 1230 551.600"/>
<g class="f">
<path d="M1162.600 378.600l2.200-.4l2 9.600l-2.200 .6z"/>
<path d="M1173.800 407.100l2.200-.4l2 9.600l-2.200 .6z"/>
<path d="M1185 435.600l2.200-.4l2 9.600l-2.200 .6z"/>
<path d="M1196.200 464.100l2.200-.4l2 9.600l-2.200 .6z"/>
<path d="M1207.400 492.600l2.200-.4l2 9.600l-2.200 .6z"/>
<path d="M1218.600 521.100l2.200-.4l2 9.600l-2.200 .6z"/>
</g>
</g>
</defs>
<g id="p11a">
<use href="#rail11"/>
<path class="l" d="M1169 456.500H1183"/>
<path class="l" d="M1219.500 452.600L1228.500 452"/>
<text transform="translate(1229 451.600) rotate(90)" text-anchor="middle" font-size="10">11</text>
</g>
<g id="p11b">
<use href="#rail11" transform="translate(-299.500 650)"/>
<path class="l" d="M871 1109.600H883"/>
<path class="l" d="M913 1089.600H922"/>
<text transform="translate(922.600 1089.600) rotate(90)" text-anchor="middle" font-size="10">11</text>
</g>

<!-- 55_p14.svg -->
<g id="p14">
<path class="l" d="M1085.800 69.200L1102.900 74.400L1119.500 84.100L1120.400 87.100L1171.600 214.200L1172.500 231.600L1170.600 239"/>
<path class="l" d="M1085.800 69.200L1082.700 74.400L1075.700 93.700L1078.400 94.600L1082.300 88L1085.400 88.900Q1100 92 1109.900 101.100L1120.400 108.100"/>
<path class="f" d="M1109 101.600L1120.800 107.600L1120 111.600L1112.600 110.400Z"/>
<path class="l" d="M1102.900 74.400L1096.700 91.900M1119.500 84.100L1120.400 107.200"/>
<path class="l" d="M1082.300 88.900L1081.400 107.700M1084.600 89.600L1083.400 107.700"/>
<path class="l" d="M1081.400 105.600h2.400v2.600h-2.400z"/>
<path class="l" d="M1081.400 108.200L1093.200 110.700Q1098 113 1099.400 115.100L1102 122.100"/>
<path class="l" d="M1097.600 93.700L1093.700 110.300M1104.200 98.500L1098.900 112.500"/>
<path class="k" d="M1102 122.100L1129.400 182.800L1143.400 225L1150 243.800V247.500L1146.300 251.300"/>
<path class="l" d="M1107.200 123.900L1150 229.700"/>
<path class="l" d="M1148 229.200h2.600v2.200h-2.600z"/>
<path class="l" style="stroke-dasharray:2 3" d="M1109 126.500L1128 172"/>
<path class="k2" style="stroke-width:2.600" d="M1120.400 108.100L1170.600 233.400"/>
<!-- bottom -->
<path class="l" d="M1144.800 234.400L1139.700 251.700L1143.900 263.400L1147.200 254.100L1162.200 251.300L1170.600 240.900"/>
<path class="l" d="M1139.700 251.700L1146.300 251.300M1141 252.600l3 9M1146 252l-2 10"/>
<path class="l" d="M1161.300 211.900L1150 244.700M1161.300 211.900L1164 243.800M1155.600 236.200L1170.600 240.900M1164 243.800L1162.200 251.300"/>
<ellipse class="l" cx="1163.100" cy="227.800" rx="3.600" ry="2" style="stroke-width:1.800"/>
<path class="f" d="M1156.600 235l3.600 .6l2 5l-3 2.400l-3-3z"/>
<text transform="translate(1174.600 241.900) rotate(90)" text-anchor="middle" font-size="6.500">3</text>
<path class="l" d="M1171 240l3 2"/>
<!-- top screw -->
<path class="f" d="M1113.400 111.600h5.200v6.100h-5.200z"/>
<path class="l" d="M1116.700 117.700V129"/>
<text transform="translate(1114 131.700) rotate(90)" text-anchor="middle" font-size="8">3</text>
<!-- spring screw -->
<path class="l" style="stroke-width:1.600" d="M1142.500 159.400l-3 7l2 3l4-1l1-4z"/>
<path class="l" style="stroke-width:2" d="M1140 170h6M1140.400 173h6M1141 176h6M1141.600 179h6M1142.400 182h5"/>
<path class="l" d="M1144.400 183.800V194"/>
<text transform="translate(1142 197.800) rotate(90)" text-anchor="middle" font-size="8">3</text>
<!-- 8 leader -->
<text transform="translate(1080.600 180) rotate(90)" text-anchor="middle" font-size="7.500">8</text>
<path class="l" d="M1085 180.500H1128"/>
<ellipse class="f" cx="1101.300" cy="180.400" rx="4" ry="2"/>
<!-- 14 -->
<text transform="translate(1168.600 164.600) rotate(90)" text-anchor="middle" font-size="14" style="stroke-width:.7">14</text>
<path class="l" d="M1153.800 166.400H1165"/>
<!-- dash-dot from part 6 region -->
<path class="l" style="stroke-dasharray:22 3 5 3" d="M1101 123.500H935.500V205"/>
</g>

<!-- 60_p9_6.svg -->
<g id="p9box">
<!-- upper cover box -->
<path class="l" d="M906.300 173L907.500 171.500L947.500 172.500L993.800 179.400L995 181.300"/>
<path class="l" d="M906.300 173L895.600 205H987.500L993.800 180"/>
<path class="l" d="M995 181.300L990 197.500L987.500 205"/>
<!-- 8 screws top -->
<text transform="translate(880 166) rotate(90)" text-anchor="middle" font-size="7.500">8</text>
<path class="l" d="M887 165.600H896"/>
<circle class="l" cx="899.400" cy="165.600" r="2.200" style="stroke-width:1.300"/>
<path class="f" d="M899 167l2.600 .6l-.6 2.800l-2-.8z"/>
<path class="l" style="stroke-dasharray:9 2" d="M901 170L913.400 200.600"/>
<rect class="f" x="912.600" y="200.400" width="2.400" height="2"/>
<text transform="translate(950 166) rotate(90)" text-anchor="middle" font-size="7.500">8</text>
<path class="l" d="M957 165.600H966.600"/>
<circle class="l" cx="969.400" cy="165.600" r="2.200" style="stroke-width:1.300"/>
<path class="f" d="M969 167l2.600 .6l-.6 2.800l-2-.8z"/>
<path class="l" style="stroke-dasharray:9 2" d="M971 170L982.600 200.600"/>
<rect class="f" x="982" y="200.400" width="2.400" height="2"/>
<!-- dash-dot vertical continuing below box -->
<path class="l" d="M935.500 205V236.300"/>
<!-- lower body -->
<path class="l" d="M895.600 205.600L893.800 215L898.800 228L905 229.400L903.800 241.300L911.300 258.800L922.500 262L923.800 263.800"/>
<path class="k" d="M923.800 263.800L975 393.800"/>
<path class="l" d="M905 206L900 225M920 206L912 257.500M925 206L919.400 260M931.300 211L925 262M938.800 217.500L928.800 250"/>
<path class="l" d="M925 206.300Q936 207 942.500 211.300L950 218L955 221L957.500 227.500L978.800 276L985 290L1003.800 345L1005.600 350Q1005 356 1000 360Q994 364.600 986.300 365.600"/>
<path class="l" d="M925 210L932.500 210.600Q937 213 940 217.500L946 227.500L950 237.500L978.800 310L990 342.500L991.900 346.300L987.500 360"/>
<path class="k" d="M990 352.500L975 395"/>
<path class="l" d="M997.500 342.500Q997.600 348 995 352.500Q992 358 987.600 361"/>
<path class="l" d="M920 227.500H947"/>
<path class="l" d="M920 230L951 310L971.900 353.800H993.800"/>
<path class="l" d="M935 236L963.800 310L977.500 341.900"/>
<path class="l" style="stroke-width:1.300" d="M906.200 231.200l3.800 .4l-2.600 8.600l-3.400-.4z"/>
<!-- 9 upper -->
<path class="l" d="M935.300 236.300H965"/>
<path class="f" d="M942 236.300l3-1.400v2.800z"/>
<circle class="f" cx="953.500" cy="236.300" r="3.400"/>
<text transform="translate(968.200 236.400) rotate(90)" text-anchor="middle" font-size="7.500">9</text>
<!-- 9 lower -->
<path class="l" d="M957.500 292.500H1002.500"/>
<path class="l" d="M966 290.600v3.600"/>
<circle class="f" cx="989.400" cy="292.300" r="3.400"/>
<text transform="translate(1004 292.400) rotate(90)" text-anchor="middle" font-size="7.500">9</text>
<path class="l" d="M973.800 297L977 290Q979 285 981.400 285.600L983.600 288"/>
<!-- bottom line + 8 -->
<path class="l" d="M918 297.500H975"/>
<path class="l" d="M918 297.500L916.400 303"/>
<circle class="l" cx="916.300" cy="306.300" r="2.400" style="stroke-width:1.400"/>
<path class="l" d="M917.500 310V320.600"/>
<text transform="translate(915 323) rotate(90)" text-anchor="middle" font-size="7.500">8</text>
<!-- 9 third -->
<path class="l" d="M977.500 341.900H1008"/>
<path class="f" d="M984 341.900l2.600-1.400v2.800zM996 341.900l2.600-1.400v2.800z"/>
<circle class="f" cx="1011.300" cy="342.500" r="3.400"/>
<path class="l" d="M1015 342.800H1022"/>
<text transform="translate(1025 343) rotate(90)" text-anchor="middle" font-size="7.500">9</text>
<!-- lower lines and diamond -->
<path class="l" d="M986.300 371.300L1002.500 416.300L992.500 450"/>
<path class="l" d="M971.300 385L965.600 401.300L975 397.500"/>
<path class="k" d="M965.600 402.500L982.500 443.800"/>
<path class="l" d="M982.500 443.800L986.300 433.800L993 450"/>
<rect class="f" x="986.600" y="426" width="1.600" height="3.600"/>
</g>
<g id="rod6">
<path class="l" d="M995 183.800L996.300 186.300L1006.900 187.300L1008.500 195L999.400 193"/>
<path class="l" d="M996.300 188.800L1087.500 430"/>
<path class="l" d="M1001.300 193.800L1092 430"/>
<path class="l" d="M1004.400 229.400L1013.800 242.500L1028 245L1025 235L1011 233.800Z"/>
<path class="l" style="stroke-width:2" d="M1006 231.600l7 9.600M1008 231l6 8"/>
<path class="l" d="M1020 236l1 6"/>
<path class="l" d="M1040 299.400L1051.300 300L1053.800 307.500L1043.800 306.300"/>
<path class="l" d="M1055.600 356.900L1065 370L1079.400 372.500L1075 361.900H1063.800Z"/>
<path class="l" style="stroke-width:2" d="M1057.600 359l7 9.600M1059.600 358.400l6 8"/>
<path class="l" d="M1071 363l1 6"/>
<text transform="translate(1067.600 334) rotate(90)" text-anchor="middle" font-size="9.500">6</text>
<path class="l" d="M1057.500 333.500H1066"/>
<!-- 7 / 3 upper -->
<text transform="translate(1033.600 173) rotate(90)" text-anchor="middle" font-size="10">7</text>
<path class="l" d="M1036.900 178V186"/>
<path class="f" d="M1034 187q2.600-1.600 4.400 0l.4 4l-3.400 7l-2.600-1z"/>
<path class="l" d="M1034 198L1023.800 233.800"/>
<rect class="f" x="1024.400" y="217.500" width="8" height="3.800"/>
<path class="l" d="M1032.500 218.500H1041.300"/>
<text transform="translate(1042.600 218.600) rotate(90)" text-anchor="middle" font-size="8">3</text>
<!-- 7 / 3 lower -->
<text transform="translate(1084.200 296.300) rotate(90)" text-anchor="middle" font-size="10">7</text>
<path class="l" d="M1087.500 301V310"/>
<path class="f" d="M1085 310.600q2.600-1.600 4.400 0l.4 4l-3.400 7l-2.600-1z"/>
<path class="l" d="M1085 322L1075 361.900"/>
<rect class="f" x="1075.600" y="342.400" width="7" height="3.800"/>
<path class="l" d="M1082.500 343.500H1092.500"/>
<text transform="translate(1093.600 343.600) rotate(90)" text-anchor="middle" font-size="8">3</text>
</g>
<g id="box3">
<path class="l" d="M1011.300 406.900L1075 410"/>
<path class="k2" style="stroke-width:2.600" d="M1012.500 410.600L1077.500 411.900L1075 431.300L1011.900 435.600L1016.900 415Z"/>
<path class="l" d="M1005.600 410.600L1012.500 410L1015 418"/>
<path class="f" d="M1005.600 412h6v5h-6z"/>
<text transform="translate(1053 420.600) rotate(90)" text-anchor="middle" font-size="8">3</text>
<path class="l" d="M1059 420.600H1068"/>
<rect class="f" x="1068" y="418" width="5" height="5"/>
<rect class="f" x="1003.800" y="422.500" width="5" height="3.800"/>
<path class="l" d="M1006.300 427V437.500"/>
<text transform="translate(1003 441.300) rotate(90)" text-anchor="middle" font-size="10">3</text>
<path class="f" d="M1037 435l3 1l2-2l1 3l3 1l-3 1.600l-1 3l-2-2l-3 1l1-3z"/>
<circle class="l" cx="1080" cy="438.800" r="3.400" style="stroke-width:1.600"/>
<path class="l" d="M1077.500 411.900L1080 412L1094 413Q1098 414.600 1098 418L1088 420L1083.800 446"/>
<path class="l" d="M1091 420L1085.600 446"/>
<path class="l" d="M1083.800 446L1027.500 449.400L1000 451L994 450"/>
<path class="l" d="M1083.800 446L1087 458"/>
<ellipse class="f" cx="1088.600" cy="462" rx="2" ry="3.200"/>
<path class="l" d="M1090 464.600H1108"/>
<text transform="translate(1108.600 465.600) rotate(90)" text-anchor="middle" font-size="8.500">7</text>
<!-- 32 -->
<text transform="translate(1087 393.800) rotate(90)" text-anchor="middle" font-size="10">32</text>
<path class="l" d="M1096 393.500H1104"/>
<path class="l" d="M1101 381L1112 380.600L1118.600 400.600L1108 401.400Z"/>
</g>

<!-- 70_lowerleft.svg -->
<g id="p5box">
<!-- upper box -->
<path class="l" d="M607.500 757.500H698L696 766L692 782.500"/>
<path class="l" d="M607.500 757.500L600.600 792.500"/>
<path class="l" d="M607.500 757.500L610 749.400L613 757.500"/>
<path class="l" d="M600.600 793L692.500 790M663 788.800L692.500 785"/>
<path class="l" d="M692.500 786H705.600L708.800 792.500L698 795"/>
<path class="l" d="M600.600 793L603 800L608.800 805L612.500 813.800Q616.600 816 615.600 818.800L612 821V825"/>
<path class="l" style="stroke-width:1.300" d="M697 765.600l2.400 .4l-3 13l-2-.6z"/>
<!-- 8 screws top -->
<text transform="translate(590 726) rotate(90)" text-anchor="middle" font-size="7.500">8</text>
<path class="l" d="M597 725.600H606.600"/>
<circle class="l" cx="609.400" cy="725.300" r="2.200" style="stroke-width:1.300"/>
<path class="f" d="M609 727l2.600 .6l-.6 2.800l-2-.8z"/>
<path class="l" style="stroke-dasharray:9 2" d="M611 730L622.600 759"/>
<rect class="f" x="622" y="759" width="2.400" height="2"/>
<text transform="translate(660 726) rotate(90)" text-anchor="middle" font-size="7.500">8</text>
<path class="l" d="M667 725.600H676.600"/>
<circle class="l" cx="679.400" cy="725" r="2.200" style="stroke-width:1.300"/>
<path class="f" d="M679 727l2.600 .6l-.6 2.800l-2-.8z"/>
<path class="l" style="stroke-dasharray:9 2" d="M681 730L692.600 759"/>
<rect class="f" x="692" y="759" width="2.400" height="2"/>
<!-- 8 left -->
<text transform="translate(582 816) rotate(90)" text-anchor="middle" font-size="7.500">8</text>
<path class="l" d="M589.400 815.600H598"/>
<path class="f" d="M598 813l5 2l-3.600 5l-1.600-1z"/>
<path class="l" d="M598.800 818.800V825.300H648"/>
<path class="l" d="M648 825.600L666 870L690 928"/>
<path class="l" style="stroke-dasharray:14 3" d="M648 825.600L640.600 851L626 900"/>
<circle class="l" cx="640.600" cy="851.400" r="1.200"/>
<!-- curved shapes under box -->
<path class="l" d="M612 825.600L611 828.800L615.600 838.800L622.500 841.300Q628 843 629.400 846.300L633.800 855L638 870L646.300 882.500L665 932.500L678 975L692.500 1030Q694 1036 697.500 1038L705 1038.800L710 1035"/>
<path class="l" d="M613 825L623.800 827.500L641 836L647.500 841L653.800 856L660 870L672.500 908.800L681 975"/>
<path class="l" d="M613 830L623 833L640 842.500L645.600 846.300L655 870L677.500 930"/>
<path class="l" d="M623.800 827.500L622.600 833"/>
<path class="k" d="M681 975Q681.600 979 678.800 981Q676 984 672.500 985"/>
<path class="l" d="M652.500 850L692.500 962.500L699 978"/>
<path class="l" d="M658.800 850L677.500 897.500L698.800 946L695 956L688 972"/>
<path class="l" d="M698.800 946L700 972.500Q699 980 695 983.800Q690 988 676.300 993L672 988.800L672.500 980"/>
<circle class="f" cx="688.800" cy="972" r="1.200"/>
<path class="l" d="M688 972.500L676 994L672.500 1011"/>
<!-- rod 5 -->
<path class="l" d="M692 782.500L789 1024"/>
<path class="l" d="M694.600 784L791 1023"/>
<path class="l" d="M697 786L793 1022"/>
<path class="l" style="stroke-width:1.800" d="M716.300 833.800L725.600 834.400L728.800 841.300L717.500 843.800Z"/>
<path class="l" style="stroke-width:1.600" d="M719 836h6M719.600 839h7"/>
<path class="l" d="M740 900L751 898L753 905L743 908"/>
<path class="l" style="stroke-width:1.800" d="M766 960h11l1.600 10l-11 1z"/>
<path class="l" style="stroke-width:1.600" d="M768 963h9M768.600 967h9"/>
<path class="l" d="M784 1004H794L797 1017L789 1019Z"/>
<path class="l" style="stroke-width:1.400" d="M786 1007h6v5h-6z"/>
<path class="l" d="M788 1025L774 1030L772 1024.400L767.500 1024.400L705 1028.500M705 1032.500L757.500 1027.500"/>
<path class="l" d="M704.400 1028.500L706 1034"/>
<ellipse class="f" cx="709.400" cy="1035.600" rx="2" ry="2.400"/>
<text transform="translate(746 884.400) rotate(90)" text-anchor="middle" font-size="9.500">5</text>
<path class="l" d="M737 884H745"/>
<!-- dashed parallelogram + 9s -->
<path class="l" d="M685.600 805.600H711"/>
<circle class="l" cx="714.400" cy="805.600" r="2.800" style="stroke-width:1.600"/>
<path class="l" d="M715.600 791V802.500"/>
<text transform="translate(713 788) rotate(90)" text-anchor="middle" font-size="8">9</text>
<path class="l" style="stroke-dasharray:16 3" d="M685.600 805.600L728 911"/>
<path class="l" d="M728 911H761"/>
<circle class="f" cx="765" cy="911.600" r="3.200"/>
<path class="l" d="M766.400 898V908"/>
<text transform="translate(764 894.400) rotate(90)" text-anchor="middle" font-size="8">9</text>
<circle class="f" cx="739.400" cy="861.900" r="3.200"/>
<path class="l" d="M740.600 847.500V858.800"/>
<text transform="translate(738 844.800) rotate(90)" text-anchor="middle" font-size="8">9</text>
<path class="l" style="stroke-dasharray:22 3 5 3" d="M736 861.600H646.300V981.900"/>
<path class="l" d="M646.300 981.900H578"/>
<!-- long dashed diagonals from ribs -->
<path class="l" style="stroke-dasharray:16 3" d="M770 658L768 667M765.600 674L725.600 822.500"/>
<ellipse class="l" cx="767" cy="670.500" rx="2.600" ry="2" style="stroke-width:1.500"/>
<rect class="f" x="722" y="825.600" width="6.800" height="3.800"/>
<path class="l" d="M728.800 827.500H738.800"/>
<text transform="translate(740 827.600) rotate(90)" text-anchor="middle" font-size="8">3</text>
<path class="l" style="stroke-dasharray:16 3" d="M813 806L779 940L771 962"/>
<ellipse class="f" cx="779" cy="942" rx="3" ry="2.600"/>
<path class="l" d="M782 942H794"/>
<text transform="translate(796 942) rotate(90)" text-anchor="middle" font-size="8">3</text>
<ellipse class="f" cx="789" cy="996" rx="2.600" ry="2.400"/>
<path class="l" d="M792 996H802"/>
<text transform="translate(804 996) rotate(90)" text-anchor="middle" font-size="8">3</text>
<ellipse class="f" cx="722" cy="1004.400" rx="2.600" ry="2.400"/>
<path class="l" d="M725 1004.400H735"/>
<text transform="translate(736 1004.800) rotate(90)" text-anchor="middle" font-size="8">3</text>
<!-- 7s -->
<text transform="translate(692 879.400) rotate(90)" text-anchor="middle" font-size="8.500">7</text>
<path class="l" d="M698 879.400H707.500"/>
<ellipse class="f" cx="710.600" cy="879.400" rx="1.800" ry="3"/>
<path class="l" d="M711 882L728 911"/>
<text transform="translate(745 1001) rotate(90)" text-anchor="middle" font-size="8.500">7</text>
<path class="l" d="M751 1000.600H760"/>
<path class="l" style="stroke-width:2" d="M762.500 996v8"/>
<path class="l" d="M763 996L767.500 985"/>
<path class="f" d="M793.600 1029l2 -1l2.600 4l-.6 3l-3 .6l-1.600-3z"/>
<path class="l" d="M789 1020L794 1029M800 1035.600H811"/>
<text transform="translate(812.600 1036.400) rotate(90)" text-anchor="middle" font-size="8.500">7</text>
</g>
<g id="p13">
<path class="l" d="M575.600 864.400H579.400L578.800 873L592.500 878L616.300 891.300"/>
<path class="l" d="M575.600 864.400L573 872L569.400 900L571.300 908.800L585 913L592 918.800L594.400 925"/>
<path class="l" d="M592.500 878L585 912.500M569.400 900L586.900 904.400L602.500 913.800M616.300 892L603.800 914.400L592 918.400"/>
<path class="l" d="M594.400 925L638.800 1033.800"/>
<path class="l" d="M603.800 915L652.500 1037.500"/>
<path class="l" d="M616.900 892.500L667.500 1020"/>
<path class="l" style="stroke-dasharray:20 2" d="M583.800 927.500L623.800 1031"/>
<text transform="translate(549 887.600) rotate(90)" text-anchor="middle" font-size="10">13</text>
<path class="l" d="M558 888H570.600"/>
<text transform="translate(548.600 926.400) rotate(90)" text-anchor="middle" font-size="7.500">8</text>
<path class="l" d="M556.300 926.300H593.800"/>
<ellipse class="f" cx="568" cy="926.500" rx="4" ry="2"/>
<text transform="translate(571 982.600) rotate(90)" text-anchor="middle" font-size="7.500">8</text>
<ellipse class="f" cx="590.600" cy="982.800" rx="4" ry="2"/>
<text transform="translate(598 1033) rotate(90)" text-anchor="middle" font-size="7.500">8</text>
<path class="l" d="M605 1033H637.500"/>
<ellipse class="f" cx="618" cy="1033" rx="4" ry="2"/>
<!-- 3 blocks -->
<rect class="f" x="623.800" y="900" width="5" height="7"/>
<path class="l" d="M628.800 903.500H636.300"/>
<text transform="translate(638.600 903.600) rotate(90)" text-anchor="middle" font-size="8">3</text>
<path class="l" style="stroke-dasharray:14 3" d="M626 900L640 857.500"/>
<rect class="f" x="651" y="966" width="6.500" height="7"/>
<path class="l" d="M657.500 969.800H666"/>
<text transform="translate(668 970) rotate(90)" text-anchor="middle" font-size="8">3</text>
<path class="l" style="stroke-dasharray:14 3" d="M655 965.600L676 898.800"/>
<path class="f" d="M668.600 915l2.600 -.6l.4 2l-2.600 .6z"/>
<circle class="l" cx="670.600" cy="1015" r="2.400" style="stroke-width:1.800"/>
<path class="l" d="M671.900 1018.800V1029.400"/>
<text transform="translate(669 1032) rotate(90)" text-anchor="middle" font-size="8">3</text>
<!-- foot -->
<path class="l" d="M632.500 1016.900H643.800"/>
<path class="k" d="M632.500 1017L640 1038M643.800 1017L652.500 1037.500"/>
<path class="l" d="M640 1038.600H651.600"/>
<path class="k" d="M636.300 1035L633.800 1053Q634 1056 636.300 1056.300L647.500 1055.600Q651 1054 653.800 1050L667.500 1025L668 1020"/>
<path class="l" d="M638.600 1040L642.500 1047.500L640.600 1053.800"/>
<!-- 31 -->
<text transform="translate(617 1099.400) rotate(90)" text-anchor="middle" font-size="9">31</text>
<path class="l" d="M625 1099H632.500"/>
<path class="l" d="M630 1086.900L640.600 1087.500L648.500 1107.500L637.500 1108Z"/>
<path class="k" d="M637.500 1108L648.500 1107.500"/>
</g>

</svg>
</body></html>
